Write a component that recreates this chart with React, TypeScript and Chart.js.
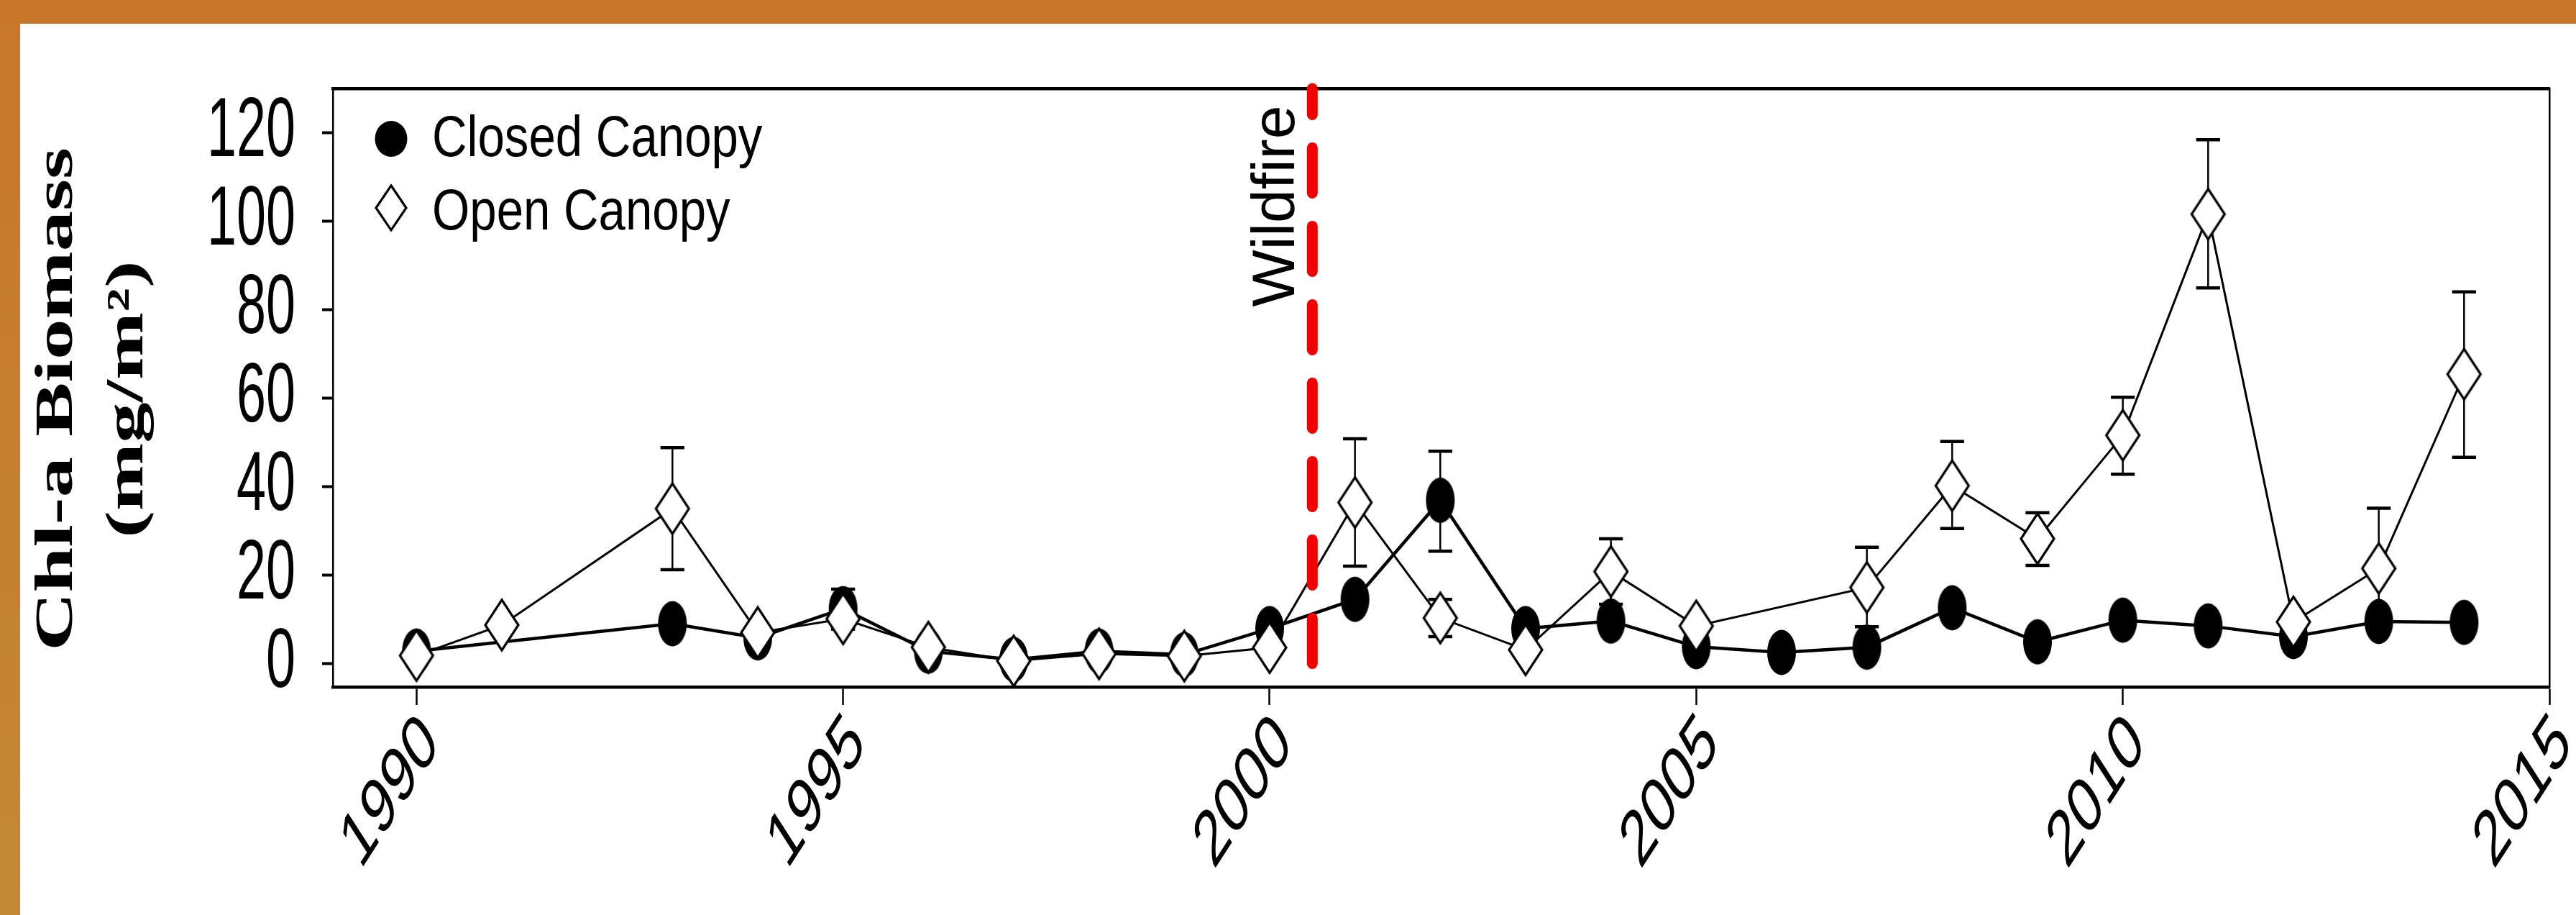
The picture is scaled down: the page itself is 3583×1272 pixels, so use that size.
import React, { useEffect, useRef } from 'react';
import { Chart, registerables } from 'chart.js';

Chart.register(...registerables);

// ---------------- data ----------------
const xTickValues = [1990, 1995, 2000, 2005, 2010, 2015];
const yTickValues = [0, 20, 40, 60, 80, 100, 120];
const seriesLabels = ['Closed Canopy', 'Open Canopy'];
const yAxisTitle = ['Chl-a Biomass', '(mg/m²)'];

const closedYears = [1990, 1993, 1994, 1995, 1996, 1997, 1998, 1999, 2000, 2001, 2002, 2003, 2004, 2005, 2006, 2007, 2008, 2009, 2010, 2011, 2012, 2013, 2014];
const closedValues = [2.8, 9.0, 5.8, 12.4, 2.8, 0.9, 2.8, 2.0, 7.9, 14.5, 36.9, 7.9, 9.6, 3.8, 2.5, 3.7, 12.6, 4.9, 9.8, 8.5, 6.1, 9.5, 9.3];

const openYears = [1990, 1991, 1993, 1994, 1995, 1996, 1997, 1998, 1999, 2000, 2001, 2002, 2003, 2004, 2005, 2007, 2008, 2009, 2010, 2011, 2012, 2013, 2014];
const openValues = [1.8, 8.7, 35.0, 7.0, 10.1, 3.7, 0.6, 2.2, 1.7, 3.6, 36.4, 10.3, 3.1, 20.8, 8.5, 17.2, 40.2, 28.2, 51.6, 101.6, 9.4, 21.5, 65.4];

const openErrYears = [1993, 2001, 2002, 2004, 2007, 2008, 2009, 2010, 2011, 2013, 2014];
const openErrLow = [21.2, 22.0, 6.1, 13.4, 8.3, 30.5, 22.2, 42.8, 84.9, 8.0, 46.6];
const openErrHigh = [48.8, 50.8, 14.5, 28.2, 26.3, 50.2, 34.1, 60.2, 118.4, 35.1, 84.0];

const closedErrYears = [1995, 2002];
const closedErrLow = [7.8, 25.4];
const closedErrHigh = [16.8, 48.0];

const wildfireYear = 2000.5;
const wildfireText = 'Wildfire';

// ---------------- layout / style constants ----------------
const W = 3583;
const H = 1272;
const X_MIN = 1989.02;
const X_MAX = 2015;
const Y_MIN = -5.3;
const Y_MAX = 130;
const CAP_HALF = 0.14;

const SANS = '"Liberation Sans", Arial, Helvetica, sans-serif';
const SERIF = '"Liberation Serif", "Times New Roman", serif';

// The source figure was horizontally compressed: text of certain sizes is squeezed
// horizontally (device space) about its anchor, optionally nudged.
const TEXT_ADJUST: Record<number, { sx: number; dx: number; dy: number }> = {
  117: { sx: 0.63, dx: 0, dy: 0 }, // y tick labels
  110: { sx: 0.645, dx: 20, dy: 0 }, // x tick labels
  113: { sx: 0.65, dx: 0, dy: 16 }, // y axis title
  80: { sx: 0.84, dx: 0, dy: 0 }, // legend
};

function installSqueeze(ctx: CanvasRenderingContext2D) {
  const orig = CanvasRenderingContext2D.prototype.fillText;
  (ctx as any).fillText = function (this: CanvasRenderingContext2D, text: string, x: number, y: number, maxWidth?: number) {
    const m = /(\d+(?:\.\d+)?)px/.exec(this.font);
    const adj = m ? TEXT_ADJUST[Math.round(parseFloat(m[1]))] : undefined;
    if (!adj) {
      if (maxWidth === undefined) orig.call(this, text, x, y);
      else orig.call(this, text, x, y, maxWidth);
      return;
    }
    const t = this.getTransform();
    const p = t.transformPoint(new DOMPoint(x, y));
    const nt = new DOMMatrix()
      .translateSelf(p.x + adj.dx, p.y + adj.dy)
      .scaleSelf(adj.sx, 1)
      .translateSelf(-p.x, -p.y)
      .multiplySelf(t);
    this.save();
    this.setTransform(nt);
    if (maxWidth === undefined) orig.call(this, text, x, y);
    else orig.call(this, text, x, y, maxWidth);
    this.restore();
  };
}

function makeCanvas(w: number, h: number, draw: (g: CanvasRenderingContext2D) => void) {
  const c = document.createElement('canvas');
  c.width = w;
  c.height = h;
  const g = c.getContext('2d')!;
  draw(g);
  return c;
}

function ellipseMarker(w: number, h: number, cx: number, cy: number, rx: number, ry: number) {
  return makeCanvas(w, h, (g) => {
    g.fillStyle = '#000';
    g.beginPath();
    g.ellipse(cx, cy, rx, ry, 0, 0, Math.PI * 2);
    g.fill();
  });
}

function diamondMarker(w: number, h: number, cx: number, cy: number, hw: number, hh: number, lw: number) {
  return makeCanvas(w, h, (g) => {
    g.fillStyle = '#fff';
    g.strokeStyle = '#000';
    g.lineWidth = lw;
    g.lineJoin = 'miter';
    g.beginPath();
    g.moveTo(cx, cy - hh);
    g.lineTo(cx + hw, cy);
    g.lineTo(cx, cy + hh);
    g.lineTo(cx - hw, cy);
    g.closePath();
    g.fill();
    g.stroke();
  });
}

function pairs(xs: number[], ys: number[]) {
  return xs.map((x, i) => ({ x, y: ys[i] }));
}

function stemData(xs: number[], lo: number[], hi: number[]) {
  const d: any[] = [];
  xs.forEach((x, i) => {
    d.push({ x, y: lo[i] }, { x, y: hi[i] }, { x, y: null });
  });
  return d;
}

function capData(xs: number[], lo: number[], hi: number[]) {
  const d: any[] = [];
  xs.forEach((x, i) => {
    d.push({ x: x - CAP_HALF, y: lo[i] }, { x: x + CAP_HALF, y: lo[i] }, { x, y: null });
    d.push({ x: x - CAP_HALF, y: hi[i] }, { x: x + CAP_HALF, y: hi[i] }, { x, y: null });
  });
  return d;
}

export default function App() {
  const ref = useRef<HTMLCanvasElement | null>(null);

  useEffect(() => {
    document.body.style.margin = '0';
    const canvas = ref.current!;
    const ctx = canvas.getContext('2d')!;
    installSqueeze(ctx);

    const closedMarker = ellipseMarker(42, 66, 21, 33, 20, 31.5);
    const openMarker = diamondMarker(52, 76, 26, 38, 23, 35, 3.2);
    const legendClosed = ellipseMarker(50, 54, 25, 27, 22.5, 25);
    const legendOpen = diamondMarker(50, 70, 25, 35, 21, 31, 3.2);

    const borderPlugin = {
      id: 'frameBackground',
      beforeDraw(chart: any) {
        const g = chart.ctx as CanvasRenderingContext2D;
        g.save();
        g.fillStyle = '#ffffff';
        g.fillRect(0, 0, chart.width, chart.height);
        const grad = g.createLinearGradient(0, 0, 0, chart.height);
        grad.addColorStop(0, '#C8762A');
        grad.addColorStop(1, '#C38A36');
        g.fillStyle = grad;
        g.fillRect(0, 0, 28, chart.height);
        g.fillStyle = '#C8772A';
        g.fillRect(0, 0, chart.width, 33);
        g.restore();
      },
    };

    const annotatePlugin = {
      id: 'legendAndWildfire',
      afterDatasetsDraw(chart: any) {
        const g = chart.ctx as CanvasRenderingContext2D;
        const area = chart.chartArea;
        const xs = chart.scales.x;
        const ys = chart.scales.y;
        g.save();
        // legend
        const rows = [
          { img: legendClosed, label: seriesLabels[0], my: 70, ty: 72 },
          { img: legendOpen, label: seriesLabels[1], my: 166, ty: 174 },
        ];
        g.font = `80px ${SANS}`;
        g.fillStyle = '#000';
        g.textAlign = 'left';
        g.textBaseline = 'middle';
        rows.forEach((r) => {
          const cx = area.left + 81;
          const cy = area.top + r.my;
          g.drawImage(r.img, cx - r.img.width / 2, cy - r.img.height / 2);
          g.fillText(r.label, area.left + 138, area.top + r.ty);
        });
        // wildfire label
        const wx = xs.getPixelForValue(wildfireYear) - 25;
        const wy = ys.getPixelForValue(103.4);
        g.translate(wx, wy);
        g.rotate(-Math.PI / 2);
        g.font = `84px ${SANS}`;
        g.textAlign = 'center';
        g.textBaseline = 'alphabetic';
        g.fillText(wildfireText, 0, 0);
        g.restore();
      },
    };

    const chart = new Chart(canvas, {
      type: 'line',
      data: {
        datasets: [
          {
            label: 'wildfire',
            data: [
              { x: wildfireYear, y: 0 },
              { x: wildfireYear, y: Y_MAX },
            ],
            borderColor: '#F00000',
            borderWidth: 15,
            borderDash: [63, 46],
            borderCapStyle: 'round',
            pointRadius: 0,
            clip: false,
            order: 0,
          } as any,
          {
            label: seriesLabels[1],
            data: pairs(openYears, openValues),
            borderColor: '#000',
            borderWidth: 3,
            tension: 0,
            pointStyle: openMarker as any,
            pointRadius: 5,
            order: 1,
          },
          {
            label: 'openStems',
            data: stemData(openErrYears, openErrLow, openErrHigh),
            borderColor: '#000',
            borderWidth: 2.5,
            pointRadius: 0,
            spanGaps: false,
            order: 2,
          },
          {
            label: 'openCaps',
            data: capData(openErrYears, openErrLow, openErrHigh),
            borderColor: '#000',
            borderWidth: 4.5,
            pointRadius: 0,
            spanGaps: false,
            order: 2,
          },
          {
            label: seriesLabels[0],
            data: pairs(closedYears, closedValues),
            borderColor: '#000',
            borderWidth: 4.5,
            tension: 0,
            pointStyle: closedMarker as any,
            pointRadius: 5,
            order: 3,
          },
          {
            label: 'closedStems',
            data: stemData(closedErrYears, closedErrLow, closedErrHigh),
            borderColor: '#000',
            borderWidth: 2.5,
            pointRadius: 0,
            spanGaps: false,
            order: 4,
          },
          {
            label: 'closedCaps',
            data: capData(closedErrYears, closedErrLow, closedErrHigh),
            borderColor: '#000',
            borderWidth: 4.5,
            pointRadius: 0,
            spanGaps: false,
            order: 4,
          },
        ],
      },
      options: {
        responsive: false,
        animation: false,
        devicePixelRatio: 1,
        layout: { padding: { top: 123, right: 37, bottom: 0, left: 0 } },
        plugins: {
          legend: { display: false },
          tooltip: { enabled: false },
        },
        scales: {
          x: {
            type: 'linear',
            position: 'bottom',
            min: X_MIN,
            max: X_MAX,
            afterBuildTicks: (s: any) => {
              s.ticks = xTickValues.map((v) => ({ value: v }));
            },
            afterFit: (s: any) => {
              s.height = 317;
              s.paddingLeft = 0;
              s.paddingRight = 0;
            },
            ticks: {
              autoSkip: false,
              minRotation: 45,
              maxRotation: 45,
              padding: 32,
              color: '#000',
              font: { family: SANS, size: 110, lineHeight: 0.1 },
              callback: (v: any) => String(v),
            },
            grid: {
              display: true,
              drawOnChartArea: false,
              drawTicks: true,
              tickLength: 25,
              tickWidth: 2.5,
              tickColor: '#000',
            },
            border: { display: true, color: '#000', width: 4.5 },
          },
          xTop: {
            type: 'linear',
            position: 'top',
            min: X_MIN,
            max: X_MAX,
            ticks: { display: false },
            grid: { display: false },
            border: { display: true, color: '#000', width: 4.5 },
            afterFit: (s: any) => {
              s.height = 0;
            },
          },
          y: {
            type: 'linear',
            position: 'left',
            min: Y_MIN,
            max: Y_MAX,
            afterBuildTicks: (s: any) => {
              s.ticks = yTickValues.map((v) => ({ value: v }));
            },
            afterFit: (s: any) => {
              s.width = 463;
              s.paddingTop = 0;
              s.paddingBottom = 0;
            },
            ticks: {
              padding: 37,
              color: '#000',
              font: { family: SANS, size: 117, lineHeight: 1 },
              callback: (v: any) => String(v),
            },
            grid: {
              display: true,
              drawOnChartArea: false,
              drawTicks: true,
              tickLength: 15,
              tickWidth: 4,
              tickColor: '#000',
            },
            border: { display: true, color: '#000', width: 2.5 },
            title: {
              display: true,
              text: yAxisTitle,
              color: '#000',
              font: { family: SERIF, size: 113, weight: 'bold', lineHeight: 0.87 },
              padding: { top: 32, bottom: 0 },
            },
          },
          yRight: {
            type: 'linear',
            position: 'right',
            min: Y_MIN,
            max: Y_MAX,
            ticks: { display: false },
            grid: { display: false },
            border: { display: true, color: '#000', width: 2.5 },
            afterFit: (s: any) => {
              s.width = 0;
            },
          },
        },
      } as any,
      plugins: [borderPlugin, annotatePlugin],
    });

    return () => {
      chart.destroy();
    };
  }, []);

  return (
    <div style={{ position: 'fixed', left: 0, top: 0, width: W, height: H, background: '#fff' }}>
      <canvas ref={ref} width={W} height={H} style={{ width: W, height: H, display: 'block' }} />
    </div>
  );
}
